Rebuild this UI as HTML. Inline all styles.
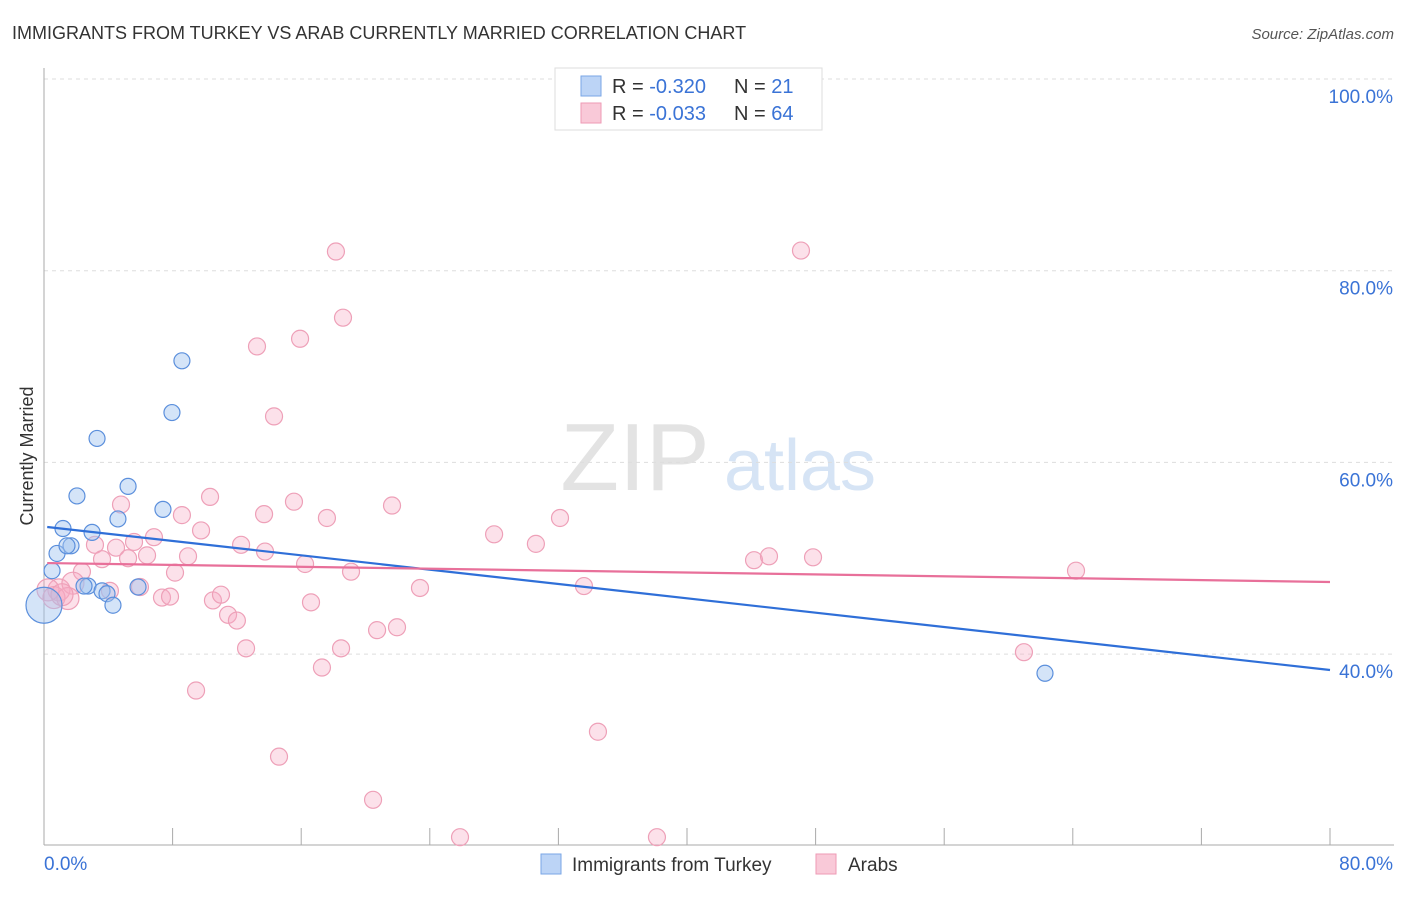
<!DOCTYPE html>
<html><head><meta charset="utf-8"><style>
body{margin:0;background:#fff;font-family:"Liberation Sans",sans-serif;}
svg text{font-family:"Liberation Sans",sans-serif;}
</style></head><body>
<svg id="chart" width="1406" height="892" xmlns="http://www.w3.org/2000/svg">
<text x="12" y="39" font-size="18" fill="#333">IMMIGRANTS FROM TURKEY VS ARAB CURRENTLY MARRIED CORRELATION CHART</text>
<text x="1394" y="39" font-size="15" fill="#555" text-anchor="end" font-style="italic">Source: ZipAtlas.com</text>
<text transform="translate(33,456) rotate(-90)" font-size="18" fill="#333" text-anchor="middle">Currently Married</text>
<g>
<text x="635" y="490" font-size="96" fill="#e3e3e3" text-anchor="middle" font-family="Liberation Serif,serif">ZIP</text>
<text x="800" y="490" font-size="72" fill="#d6e4f5" text-anchor="middle">atlas</text>
</g>
<g id="grid"></g>
<g id="axes"></g>
<g id="points"></g>
<g id="lines"></g>
<g>
<rect x="555" y="68" width="267" height="62" fill="#fff" stroke="#ddd"/>
<rect x="581" y="76" width="20" height="20" fill="#bcd4f6" stroke="#7aa6e6"/>
<rect x="581" y="103" width="20" height="20" fill="#f9c9d8" stroke="#ee9ab5"/>
<text x="612" y="93" font-size="20" fill="#333">R = <tspan fill="#3a73d6">-0.320</tspan></text>
<text x="734" y="93" font-size="20" fill="#333">N = <tspan fill="#3a73d6"> 21</tspan></text>
<text x="612" y="120" font-size="20" fill="#333">R = <tspan fill="#3a73d6">-0.033</tspan></text>
<text x="734" y="120" font-size="20" fill="#333">N = <tspan fill="#3a73d6">64</tspan></text>
</g>
<g>
<rect x="541" y="854" width="20" height="20" fill="#bcd4f6" stroke="#7aa6e6"/>
<text x="572" y="871" font-size="19" fill="#333">Immigrants from Turkey</text>
<rect x="816" y="854" width="20" height="20" fill="#f9c9d8" stroke="#ee9ab5"/>
<text x="848" y="871" font-size="19" fill="#333">Arabs</text>
</g>
</svg>
<script>
const yTicks=[40,60,80,100];
const yTickLabels=["40.0%","60.0%","80.0%","100.0%"];
const xTicks=[0,8,16,24,32,40,48,56,64,72,80];
const blueX=[8.58,7.96,3.30,5.23,2.05,7.40,1.18,4.60,2.99,0.81,1.68,1.43,0.5,2.74,2.49,3.61,3.92,4.29,5.85,62.27,0];
const blueY=[70.6,65.2,62.5,57.5,56.5,55.1,53.1,54.1,52.7,50.5,51.3,51.3,48.7,47.1,47.1,46.6,46.3,45.1,47.0,38.0,45.1];
const blueR=[8,8,8,8,8,8,8,8,8,8,8,8,8,8,8,8,8,8,8,8,18];
const pinkX=[18.16,47.09,18.6,13.25,15.93,14.31,10.33,4.79,15.55,21.65,8.58,13.69,17.6,32.1,6.84,9.77,3.17,4.48,5.6,12.26,13.75,6.41,5.23,8.96,3.61,28.0,30.6,44.17,45.1,47.84,16.24,19.1,2.36,8.15,64.2,23.39,33.59,0.93,1.8,4.1,5.97,7.34,7.84,10.51,11.01,16.61,11.45,12.0,20.72,21.96,12.57,18.48,17.29,60.96,9.46,34.46,14.62,20.47,25.88,38.13,0.25,0.62,1.49,1.12];
const pinkY=[82.0,82.1,75.1,72.1,72.9,64.8,56.4,55.6,55.9,55.5,54.5,54.6,54.2,54.2,52.2,52.9,51.4,51.1,51.7,51.4,50.7,50.3,50.0,50.2,49.9,52.5,51.5,49.8,50.2,50.1,49.4,48.6,48.6,48.5,48.7,46.9,47.1,46.7,47.4,46.6,47.0,45.9,46.0,45.6,46.2,45.4,44.1,43.5,42.5,42.8,40.6,40.6,38.6,40.2,36.2,31.9,29.3,24.8,20.9,20.9,46.7,45.9,45.8,46.2];
const blueLine=[53.26,38.34];
const pinkLine=[49.5,47.52];
const NS="http://www.w3.org/2000/svg";
const X=v=>44+v*16.075, Y=v=>79+(100-v)*9.585;
function mk(t,a,p){const e=document.createElementNS(NS,t);for(const k in a)e.setAttribute(k,a[k]);p.appendChild(e);return e;}
const grid=document.getElementById('grid'),axes=document.getElementById('axes'),pts=document.getElementById('points'),lines=document.getElementById('lines');
yTicks.forEach((t,i)=>{
 const l=mk('line',{x1:44,x2:1394,y1:Y(t),y2:Y(t),stroke:'#ddd','stroke-dasharray':'4,4'},grid);
 
 
 const tx=mk('text',{x:1393,y:Y(t)+24,'font-size':19,fill:'#3a73d6','text-anchor':'end'},axes);
 tx.textContent=yTickLabels[i];
 
 
});
const ya=mk('line',{x1:44,x2:44,y1:68,y2:845,stroke:'#aaa'},axes);


const xa=mk('line',{x1:44,x2:1394,y1:845,y2:845,stroke:'#aaa'},axes);


xTicks.forEach(t=>{
 const l=mk('line',{x1:X(t),x2:X(t),y1:828,y2:845,stroke:'#aaa'},axes);
 
 
});
const x0=mk('text',{x:44,y:870,'font-size':19,fill:'#3a73d6'},axes);x0.textContent='0.0%';


const x1=mk('text',{x:1393,y:870,'font-size':19,fill:'#3a73d6','text-anchor':'end'},axes);x1.textContent='80.0%';


pinkX.forEach((v,i)=>{
 const c=mk('circle',{cx:X(v),cy:Y(pinkY[i]),r:(v<2?11:8.5),fill:'rgba(246,170,195,0.35)',stroke:'#eea0b8','stroke-width':1.2},pts);
 
 
});
blueX.forEach((v,i)=>{
 const c=mk('circle',{cx:X(v),cy:Y(blueY[i]),r:blueR[i],fill:'rgba(160,195,240,0.45)',stroke:'#5b8fdc','stroke-width':1.2},pts);
 
 
});
const bl=mk('line',{x1:X(0.2),x2:X(80),y1:Y(blueLine[0]),y2:Y(blueLine[1]),stroke:'#2f6fd8','stroke-width':2.2},lines);


const pl=mk('line',{x1:X(0.2),x2:X(80),y1:Y(pinkLine[0]),y2:Y(pinkLine[1]),stroke:'#e8709a','stroke-width':2.2},lines);


</script>
</body></html>
